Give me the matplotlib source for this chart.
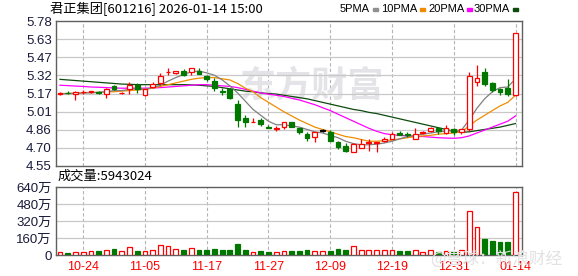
import numpy as np
import matplotlib
matplotlib.use("Agg")
import matplotlib.pyplot as plt

plt.rcParams['font.family'] = ['Liberation Sans', 'Noto Sans CJK SC', 'DejaVu Sans']

# 日K数据 (读自图片), 2025-10-21 .. 2026-01-14
opens = [5.163, 5.172, 5.16, 5.175, 5.178, 5.178, 5.165, 5.23, 5.168, 5.20,
         5.235, 5.155, 5.22, 5.25, 5.345, 5.335, 5.36, 5.345, 5.36, 5.315,
         5.275, 5.185, 5.20, 5.08, 4.96, 4.925, 4.94, 4.877, 4.868, 4.885,
         4.92, 4.87, 4.82, 4.80, 4.85, 4.84, 4.75, 4.72, 4.67, 4.705,
         4.745, 4.745, 4.765, 4.78, 4.83, 4.82, 4.78, 4.833, 4.845, 4.87,
         4.83, 4.865, 4.84, 4.86, 5.26, 5.345, 5.25, 5.205, 5.215, 5.15]
highs = [5.18, 5.185, 5.185, 5.195, 5.19, 5.185, 5.21, 5.235, 5.18, 5.26,
         5.25, 5.20, 5.26, 5.335, 5.38, 5.36, 5.37, 5.38, 5.385, 5.32,
         5.295, 5.21, 5.21, 5.11, 4.985, 4.96, 4.955, 4.90, 4.89, 4.925,
         4.925, 4.875, 4.84, 4.84, 4.86, 4.855, 4.765, 4.745, 4.745, 4.78,
         4.78, 4.755, 4.80, 4.84, 4.85, 4.835, 4.87, 4.845, 4.885, 4.88,
         4.90, 4.875, 4.865, 5.35, 5.41, 5.38, 5.26, 5.21, 5.285, 5.68]
lows = [5.15, 5.165, 5.11, 5.165, 5.17, 5.165, 5.13, 5.195, 5.16, 5.16,
        5.17, 5.145, 5.21, 5.24, 5.32, 5.33, 5.31, 5.32, 5.33, 5.27,
        5.19, 5.15, 5.12, 4.885, 4.885, 4.925, 4.89, 4.875, 4.85, 4.865,
        4.88, 4.82, 4.765, 4.755, 4.84, 4.76, 4.69, 4.67, 4.665, 4.70,
        4.68, 4.67, 4.75, 4.775, 4.81, 4.80, 4.775, 4.825, 4.84, 4.82,
        4.825, 4.81, 4.82, 4.85, 5.225, 5.23, 5.18, 5.15, 5.14, 5.14]
closes = [5.166, 5.170, 5.18, 5.18, 5.185, 5.172, 5.20, 5.20, 5.172, 5.235,
          5.20, 5.20, 5.245, 5.315, 5.35, 5.36, 5.32, 5.38, 5.33, 5.29,
          5.21, 5.18, 5.13, 4.94, 4.92, 4.927, 4.905, 4.875, 4.872, 4.92,
          4.885, 4.84, 4.79, 4.84, 4.85, 4.76, 4.715, 4.675, 4.735, 4.735,
          4.75, 4.75, 4.775, 4.82, 4.815, 4.81, 4.82, 4.836, 4.87, 4.845,
          4.87, 4.835, 4.86, 5.315, 5.30, 5.245, 5.195, 5.18, 5.16, 5.68]
# 成交量 (万股)
volumes = [31, 22, 31, 31, 40, 34, 50, 59, 40, 74,
           40, 40, 50, 90, 84, 59, 50, 65, 50, 50,
           59, 43, 50, 105, 50, 31, 40, 31, 31, 40,
           34, 34, 43, 34, 34, 34, 53, 43, 81, 43,
           50, 50, 43, 50, 34, 34, 43, 25, 43, 28,
           34, 28, 50, 412, 267, 155, 136, 118, 118, 594.3]

ma5 = [5.16, 5.165, 5.165, 5.17, 5.17, 5.175, 5.18, 5.19, 5.19, 5.20,
       5.205, 5.20, 5.215, 5.235, 5.27, 5.30, 5.325, 5.35, 5.355, 5.34,
       5.32, 5.28, 5.23, 5.17, 5.10, 5.03, 4.98, 4.93, 4.90, 4.90,
       4.89, 4.88, 4.86, 4.84, 4.83, 4.81, 4.79, 4.76, 4.74, 4.73,
       4.73, 4.735, 4.745, 4.76, 4.78, 4.80, 4.81, 4.82, 4.83, 4.84,
       4.845, 4.85, 4.855, 4.94, 5.04, 5.12, 5.18, 5.215, 5.22, 5.29]
ma10 = [5.165, 5.165, 5.17, 5.17, 5.175, 5.175, 5.18, 5.18, 5.185, 5.19,
        5.195, 5.20, 5.21, 5.225, 5.24, 5.255, 5.27, 5.285, 5.295, 5.30,
        5.30, 5.29, 5.28, 5.25, 5.21, 5.18, 5.13, 5.09, 5.05, 5.01,
        4.975, 4.94, 4.91, 4.88, 4.86, 4.84, 4.82, 4.80, 4.79, 4.775,
        4.76, 4.76, 4.765, 4.77, 4.78, 4.79, 4.80, 4.805, 4.81, 4.82,
        4.825, 4.83, 4.84, 4.89, 4.94, 4.98, 5.02, 5.06, 5.09, 5.15]
ma20 = [5.235, 5.232, 5.228, 5.225, 5.22, 5.218, 5.215, 5.212, 5.21, 5.21,
        5.21, 5.21, 5.212, 5.215, 5.22, 5.225, 5.23, 5.235, 5.24, 5.24,
        5.235, 5.23, 5.225, 5.215, 5.20, 5.185, 5.17, 5.16, 5.15, 5.14,
        5.125, 5.11, 5.09, 5.07, 5.045, 5.02, 4.99, 4.96, 4.93, 4.90,
        4.87, 4.845, 4.825, 4.815, 4.81, 4.805, 4.80, 4.80, 4.795, 4.79,
        4.787, 4.785, 4.79, 4.805, 4.83, 4.855, 4.88, 4.905, 4.93, 4.975]
ma30 = [5.285, 5.28, 5.275, 5.27, 5.265, 5.26, 5.255, 5.25, 5.245, 5.243,
        5.24, 5.24, 5.24, 5.24, 5.24, 5.24, 5.24, 5.238, 5.235, 5.23,
        5.225, 5.215, 5.205, 5.195, 5.185, 5.18, 5.17, 5.165, 5.16, 5.15,
        5.14, 5.13, 5.12, 5.105, 5.09, 5.075, 5.06, 5.045, 5.03, 5.02,
        5.005, 4.995, 4.98, 4.965, 4.95, 4.935, 4.92, 4.905, 4.89, 4.875,
        4.86, 4.845, 4.835, 4.84, 4.85, 4.86, 4.87, 4.88, 4.895, 4.91]

date_pos = [3, 11, 19, 27, 35, 43, 51, 59]
date_labels = ['10-24', '11-05', '11-17', '11-27', '12-09', '12-19', '12-31', '01-14']
price_ticks = [4.55, 4.70375, 4.8575, 5.01125, 5.165, 5.31875, 5.4725, 5.62625, 5.78]
price_labels = ['4.55', '4.70', '4.86', '5.01', '5.17', '5.32', '5.47', '5.63', '5.78']
vol_ticks = [0, 160, 320, 480, 640]
vol_labels = ['0', '160万', '320万', '480万', '640万']

RED = '#ff0000'
GREEN = '#007800'
W, H = 578, 276


def px_axes(fig, x0, y0, x1, y1):
    return fig.add_axes([x0 / W, 1 - y1 / H, (x1 - x0) / W, (y1 - y0) / H])


fig = plt.figure(figsize=(W / 100, H / 100), dpi=100)
ax = px_axes(fig, 56, 21, 522, 166)
axv = px_axes(fig, 56, 187, 522, 255)

x = np.arange(len(closes))
o = np.array(opens)
c = np.array(closes)
up = c >= o
bw = 0.62

for a in (ax, axv):
    a.set_xlim(-0.52, 59.84)
    for p in date_pos:
        a.axvline(p, color='#b4b4b4', lw=0.8, ls=(0, (3, 2)), zorder=0)
    for s in a.spines.values():
        s.set_color('#606060')
        s.set_linewidth(1.0)
    a.tick_params(length=0, labelsize=9.5, colors='#1a1a3a', pad=3)

# watermark
ax.text(0.55, 0.55, '东方财富', transform=ax.transAxes, fontsize=26, color='#e4e4e8',
        fontweight='bold', style='italic', ha='center', va='center',
        family=['Noto Sans CJK SC'], zorder=0)

# price panel
ax.set_ylim(4.55, 5.78)
ax.set_yticks(price_ticks)
ax.set_yticklabels(price_labels)
ax.set_xticks([])
for t in price_ticks[1:-1]:
    ax.axhline(t, color='#c8c8c8', lw=0.9, zorder=0)

ax.plot(x, ma30, color='#0d4a0d', lw=0.9, zorder=2)
ax.plot(x, ma20, color='#ff00ff', lw=0.9, zorder=2)
ax.plot(x, ma10, color='#f08c00', lw=0.9, zorder=2)
ax.plot(x, ma5, color='#808080', lw=0.9, zorder=2)

ccol = np.where(c == o, 'black', np.where(up, RED, GREEN))
ax.vlines(x, lows, highs, colors=ccol, lw=0.9, zorder=3)
body_lo = np.minimum(o, c)
body_h = np.maximum(np.abs(c - o), 0.002)
ax.bar(x, body_h, bottom=body_lo, width=bw,
       color=np.where(up, 'white', GREEN), edgecolor=ccol, lw=0.9, zorder=4)

# volume panel
axv.set_ylim(0, 640)
axv.set_yticks(vol_ticks)
axv.set_yticklabels(vol_labels)
for t in vol_ticks[1:-1]:
    axv.axhline(t, color='#c8c8c8', lw=0.9, zorder=0)
axv.bar(x, volumes, width=bw, color=np.where(up, 'white', GREEN),
        edgecolor=np.where(up, RED, GREEN), lw=0.9, zorder=3)
axv.set_xticks(date_pos)
axv.set_xticklabels(date_labels, fontsize=9, color=RED)
axv.tick_params(axis='x', pad=4, colors=RED)

fig.text(562 / W, 1 - 259 / H, '@雪球：新浪财经', fontsize=12, color='#e2e2e2',
         ha='right', va='center', family=['Noto Sans CJK SC'], zorder=0)

# header texts
fig.text(50 / W, 1 - 9 / H, '君正集团[601216] 2026-01-14 15:00', fontsize=9.5,
         va='center', ha='left', family=['Noto Sans CJK SC', 'DejaVu Sans'])
fig.text(58 / W, 1 - 176 / H, '成交量:5943024', fontsize=9.5,
         va='center', ha='left', family=['Noto Sans CJK SC', 'DejaVu Sans'])

legend_items = [('5PMA', '#909090', 340), ('10PMA', '#f08c00', 381),
                ('20PMA', '#ff00ff', 428), ('30PMA', '#0d4a0d', 474)]
for name, col, lx in legend_items:
    t = fig.text(lx / W, 1 - 9 / H, name, fontsize=8, va='center', ha='left',
                 family=['Liberation Sans Narrow', 'Liberation Sans'])
    fig.canvas.draw()
    bb = t.get_window_extent()
    fig.patches.append(plt.Rectangle(((bb.x1 + 3) / W, (H - 11) / H), 5 / W, 3 / H,
                                     transform=fig.transFigure, color=col))

fig.savefig('out.png', dpi=100)
